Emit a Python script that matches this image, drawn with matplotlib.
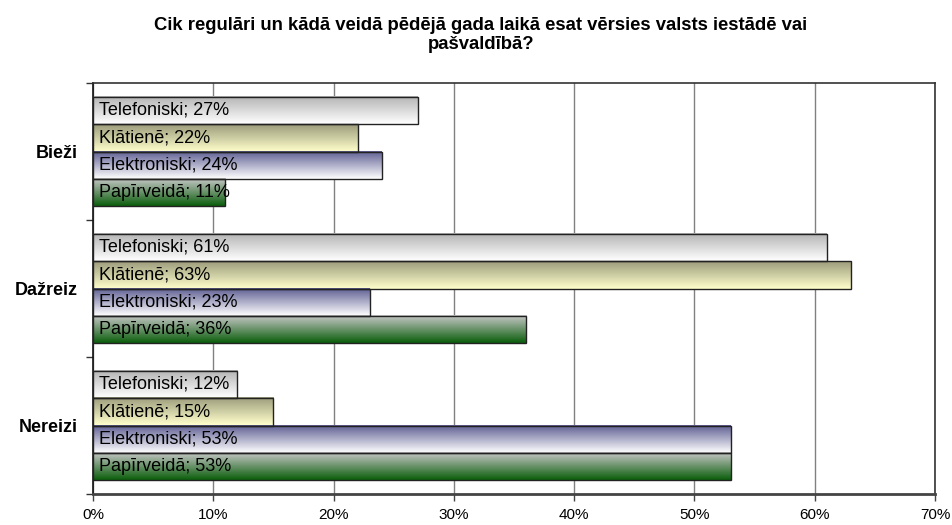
import matplotlib
matplotlib.use("Agg")
import matplotlib.pyplot as plt
import numpy as np
from matplotlib.colors import to_rgb

plt.rcParams['font.family'] = ['Liberation Sans', 'DejaVu Sans']

categories = ["Bieži", "Dažreiz", "Nereizi"]
series_names = ["Telefoniski", "Klātienē", "Elektroniski", "Papīrveidā"]
telefoniski = [27, 61, 12]
klatiene = [22, 63, 15]
elektroniski = [24, 23, 53]
papirveida = [11, 36, 53]
x_ticks = [0, 10, 20, 30, 40, 50, 60, 70]
x_tick_labels = ["0%", "10%", "20%", "30%", "40%", "50%", "60%", "70%"]
title = "Cik regulāri un kādā veidā pēdējā gada laikā esat vērsies valsts iestādē vai\npašvaldībā?"

series_values = [telefoniski, klatiene, elektroniski, papirveida]
# gradient (top colour, bottom colour)
gradients = [("#b4b4b4", "#ffffff"),
             ("#9c9c7c", "#ffffcc"),
             ("#5f5f94", "#ffffff"),
             ("#c8c8c8", "#0b5e0b")]

fig = plt.figure(figsize=(9.52, 5.25), dpi=100)
ax = fig.add_axes([93/952, 1 - 494/525, (935 - 93)/952, (494 - 83)/525])

n = len(series_names)
bar_h = 0.2
ypos = np.arange(len(categories))

for i, (name, vals) in enumerate(zip(series_names, series_values)):
    offs = (i - (n - 1) / 2) * bar_h
    bars = ax.barh(ypos + offs, vals, height=bar_h, facecolor="none",
                   edgecolor="#222222", linewidth=1.0, zorder=3)
    top_c, bot_c = np.array(to_rgb(gradients[i][0])), np.array(to_rgb(gradients[i][1]))
    t = np.linspace(0, 1, 64)[:, None]
    grad = (top_c[None, :] * (1 - t) + bot_c[None, :] * t)[:, None, :]
    for b, v in zip(bars, vals):
        x0, y0, w, h = b.get_x(), b.get_y(), b.get_width(), b.get_height()
        ax.imshow(grad, extent=[x0, x0 + w, y0 + h, y0], origin="upper",
                  aspect="auto", zorder=2, interpolation="bilinear")
        ax.annotate(f"{name}; {v}%", xy=(0, y0 + h / 2), xytext=(4.5, 0),
                    textcoords="offset points", ha="left", va="center",
                    fontsize=13, color="black", zorder=5)

ax.set_ylim(len(categories) - 0.5, -0.5)
ax.set_xlim(0, 70)

ax.set_xticks(x_ticks)
ax.set_xticklabels(x_tick_labels, fontsize=11)
ax.set_yticks(ypos)
ax.set_yticklabels(categories, fontsize=13, fontweight="bold")
ax.set_yticks([-0.5, 0.5, 1.5, 2.5], minor=True)
ax.tick_params(axis="y", which="major", length=0, pad=11)
ax.tick_params(axis="y", which="minor", length=5, width=1, color="#333333")
ax.tick_params(axis="x", length=5, width=1, color="#444444", pad=5)

ax.grid(axis="x", color="#808080", linewidth=1, zorder=0)
ax.set_axisbelow(True)
for s in ["top", "right"]:
    ax.spines[s].set_color("#333333")
    ax.spines[s].set_linewidth(1.2)
ax.spines["left"].set_color("#111111")
ax.spines["left"].set_linewidth(1.2)
ax.spines["bottom"].set_color("#444444")
ax.spines["bottom"].set_linewidth(2)

fig.text(481/952, 1 - 35/525, title, ha="center", va="center",
         fontsize=13.3, fontweight="bold", linespacing=1.12)

fig.savefig("out.png", dpi=100)
